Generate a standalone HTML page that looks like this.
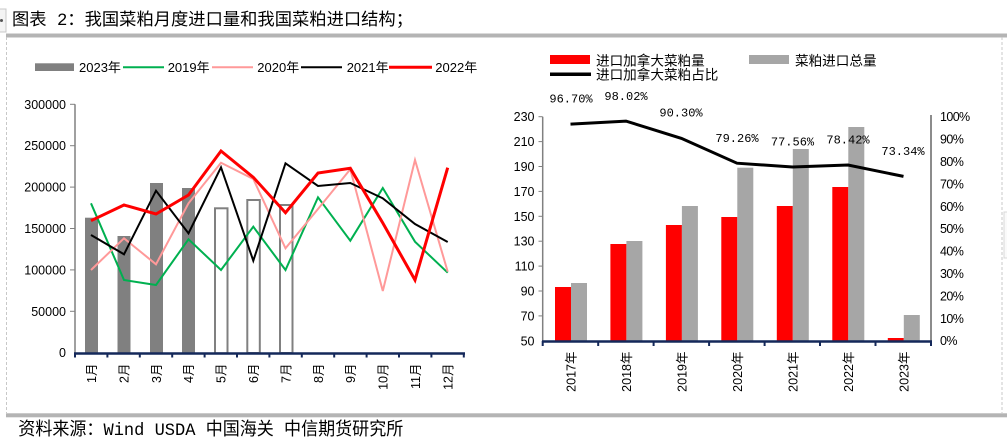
<!DOCTYPE html>
<html><head><meta charset="utf-8">
<style>
html,body{margin:0;padding:0;background:#fff;}
svg{display:block;}
</style></head>
<body>
<svg width="1007" height="440" viewBox="0 0 1007 440" xmlns="http://www.w3.org/2000/svg">
<rect x="0" y="0" width="1007" height="440" fill="#fff"/>
<!-- small left box -->
<rect x="-4" y="9" width="10" height="23" fill="#f4f4f4" stroke="#c8c8c8" stroke-width="1"/>
<circle cx="1.5" cy="20.5" r="1.5" fill="#555"/>
<!-- title -->
<text x="12" y="25" font-family="Liberation Mono, Noto Sans CJK SC, sans-serif" font-size="17.3" fill="#000" textLength="401" lengthAdjust="spacingAndGlyphs">图表 2：我国菜粕月度进口量和我国菜粕进口结构；</text>
<!-- top bar -->
<rect x="6" y="33.5" width="1001" height="4" fill="#b4b4b4"/>
<!-- dashed frame -->
<line x1="6.5" y1="37" x2="6.5" y2="413" stroke="#c8c8c8" stroke-width="1" stroke-dasharray="3,2"/>
<line x1="1002" y1="37" x2="1002" y2="413" stroke="#c8c8c8" stroke-width="1" stroke-dasharray="3,2"/>
<rect x="1004" y="212" width="6" height="46" fill="#fafafa" stroke="#d8d8d8" stroke-width="1"/>
<!-- bottom bar -->
<rect x="6" y="413.3" width="1001" height="4" fill="#b4b4b4"/>
<text x="18.3" y="435" font-family="Liberation Mono, Noto Sans CJK SC, sans-serif" font-size="17.9" fill="#000" textLength="385" lengthAdjust="spacingAndGlyphs">资料来源：Wind USDA 中国海关 中信期货研究所</text>

<!-- ================= LEFT CHART ================= -->
<g font-family="Liberation Sans, Noto Sans CJK SC, sans-serif" font-size="13" fill="#000">
  <rect x="35" y="63.3" width="39" height="7.7" fill="#808080"/>
  <text x="79" y="72">2023年</text>
  <line x1="123" y1="67.3" x2="164" y2="67.3" stroke="#00b050" stroke-width="2"/>
  <text x="167.7" y="72">2019年</text>
  <line x1="212" y1="67.3" x2="253" y2="67.3" stroke="#ff9999" stroke-width="2"/>
  <text x="257.3" y="72">2020年</text>
  <line x1="301" y1="67.3" x2="342" y2="67.3" stroke="#000" stroke-width="2"/>
  <text x="346.7" y="72">2021年</text>
  <line x1="389" y1="67.3" x2="432" y2="67.3" stroke="#ff0000" stroke-width="3"/>
  <text x="435.3" y="72">2022年</text>
</g>
<!-- y axis -->
<line x1="75" y1="104.3" x2="75" y2="353" stroke="#808080" stroke-width="1.5"/>
<g stroke="#808080" stroke-width="1">
  <line x1="70" y1="104.3" x2="75" y2="104.3"/>
  <line x1="70" y1="145.7" x2="75" y2="145.7"/>
  <line x1="70" y1="187.1" x2="75" y2="187.1"/>
  <line x1="70" y1="228.5" x2="75" y2="228.5"/>
  <line x1="70" y1="269.9" x2="75" y2="269.9"/>
  <line x1="70" y1="311.3" x2="75" y2="311.3"/>
</g>
<g font-family="Liberation Sans, sans-serif" font-size="12.5" fill="#000" text-anchor="end">
  <text x="66" y="108.8">300000</text>
  <text x="66" y="150.2">250000</text>
  <text x="66" y="191.6">200000</text>
  <text x="66" y="233">150000</text>
  <text x="66" y="274.4">100000</text>
  <text x="66" y="315.8">50000</text>
  <text x="66" y="357.2">0</text>
</g>
<!-- bars 2023 -->
<g fill="#808080">
  <rect x="85" y="217.7" width="13" height="135.3"/>
  <rect x="117.5" y="236" width="13" height="117"/>
  <rect x="150" y="183" width="13" height="170"/>
  <rect x="182" y="188" width="13" height="165"/>
</g>
<g fill="none" stroke="#808080" stroke-width="2">
  <rect x="215" y="208.3" width="12.5" height="145"/>
  <rect x="247.3" y="200" width="12.5" height="153"/>
  <rect x="280" y="205" width="12.5" height="148"/>
</g>
<!-- lines -->
<g fill="none" stroke-linejoin="miter">
  <polyline stroke="#00b050" stroke-width="2" points="91,203.3 124,280 156,285 188.5,239.3 221,270 253.3,226.7 285.5,270 318,197.3 350.3,240.7 382.8,188 415,241.7 447.7,272.7"/>
  <polyline stroke="#ff9999" stroke-width="2" points="91,270 124,238.3 156,264.3 188.5,203.3 221,162.7 253.3,179 285.5,248.3 318,209 350.3,169.3 382.8,291 415,160 447.7,271.7"/>
  <polyline stroke="#000" stroke-width="2" points="91,235 124,254.3 156,190.7 188.5,233.3 221,167.3 253.3,260.7 285.5,163.3 318,186 350.3,183 382.8,198.3 415,224 447.7,242"/>
  <polyline stroke="#ff0000" stroke-width="3" points="91,220.7 124,205 156,214 188.5,195 221,151 253.3,177.3 285.5,212.7 318,173 350.3,168.3 382.8,223 415,280 447.7,167.7"/>
</g>
<!-- x axis -->
<line x1="74" y1="353.5" x2="465" y2="353.5" stroke="#14285a" stroke-width="2.5"/>
<g stroke="#14285a" stroke-width="2">
  <line x1="75" y1="353" x2="75" y2="357.5"/>
  <line x1="107.4" y1="353" x2="107.4" y2="357.5"/>
  <line x1="139.8" y1="353" x2="139.8" y2="357.5"/>
  <line x1="172.2" y1="353" x2="172.2" y2="357.5"/>
  <line x1="204.6" y1="353" x2="204.6" y2="357.5"/>
  <line x1="237" y1="353" x2="237" y2="357.5"/>
  <line x1="269.4" y1="353" x2="269.4" y2="357.5"/>
  <line x1="301.8" y1="353" x2="301.8" y2="357.5"/>
  <line x1="334.2" y1="353" x2="334.2" y2="357.5"/>
  <line x1="366.6" y1="353" x2="366.6" y2="357.5"/>
  <line x1="399" y1="353" x2="399" y2="357.5"/>
  <line x1="431.4" y1="353" x2="431.4" y2="357.5"/>
  <line x1="463.8" y1="353" x2="463.8" y2="357.5"/>
</g>
<g font-family="Liberation Sans, Noto Sans CJK SC, sans-serif" font-size="12.5" fill="#000" text-anchor="end">
  <text transform="translate(96,363.5) rotate(-90)">1月</text>
  <text transform="translate(128.4,363.5) rotate(-90)">2月</text>
  <text transform="translate(160.8,363.5) rotate(-90)">3月</text>
  <text transform="translate(193.2,363.5) rotate(-90)">4月</text>
  <text transform="translate(225.6,363.5) rotate(-90)">5月</text>
  <text transform="translate(258,363.5) rotate(-90)">6月</text>
  <text transform="translate(290.4,363.5) rotate(-90)">7月</text>
  <text transform="translate(322.8,363.5) rotate(-90)">8月</text>
  <text transform="translate(355.2,363.5) rotate(-90)">9月</text>
  <text transform="translate(387.6,363.5) rotate(-90)">10月</text>
  <text transform="translate(420,363.5) rotate(-90)">11月</text>
  <text transform="translate(452.4,363.5) rotate(-90)">12月</text>
</g>

<!-- ================= RIGHT CHART ================= -->
<g font-family="Liberation Sans, Noto Sans CJK SC, sans-serif" font-size="13.6" fill="#000">
  <rect x="550" y="55" width="40" height="9" fill="#ff0000"/>
  <text x="596" y="65.5">进口加拿大菜粕量</text>
  <rect x="749" y="55" width="40" height="9" fill="#a6a6a6"/>
  <text x="795" y="65.5">菜粕进口总量</text>
  <line x1="550" y1="74.3" x2="591" y2="74.3" stroke="#000" stroke-width="3.5"/>
  <text x="596" y="79.5">进口加拿大菜粕占比</text>
</g>
<!-- axes -->
<line x1="542.7" y1="116.7" x2="542.7" y2="341" stroke="#808080" stroke-width="1.5"/>
<line x1="931" y1="115" x2="931" y2="341" stroke="#8c8c8c" stroke-width="2"/>
<g stroke="#808080" stroke-width="1">
  <line x1="538.5" y1="116.7" x2="542.7" y2="116.7"/>
  <line x1="538.5" y1="141.6" x2="542.7" y2="141.6"/>
  <line x1="538.5" y1="166.5" x2="542.7" y2="166.5"/>
  <line x1="538.5" y1="191.4" x2="542.7" y2="191.4"/>
  <line x1="538.5" y1="216.3" x2="542.7" y2="216.3"/>
  <line x1="538.5" y1="241.2" x2="542.7" y2="241.2"/>
  <line x1="538.5" y1="266.1" x2="542.7" y2="266.1"/>
  <line x1="538.5" y1="291" x2="542.7" y2="291"/>
  <line x1="538.5" y1="315.9" x2="542.7" y2="315.9"/>
</g>
<g font-family="Liberation Sans, sans-serif" font-size="12.5" fill="#000" text-anchor="end">
  <text x="534.5" y="121.2">230</text>
  <text x="534.5" y="146.1">210</text>
  <text x="534.5" y="171">190</text>
  <text x="534.5" y="195.9">170</text>
  <text x="534.5" y="220.8">150</text>
  <text x="534.5" y="245.7">130</text>
  <text x="534.5" y="270.6">110</text>
  <text x="534.5" y="295.5">90</text>
  <text x="534.5" y="320.4">70</text>
  <text x="534.5" y="345.3">50</text>
</g>
<g font-family="Liberation Sans, sans-serif" font-size="12.5" fill="#000" letter-spacing="-0.6">
  <text x="940" y="121.2">100%</text>
  <text x="940" y="143.6">90%</text>
  <text x="940" y="166">80%</text>
  <text x="940" y="188.4">70%</text>
  <text x="940" y="210.8">60%</text>
  <text x="940" y="233.2">50%</text>
  <text x="940" y="255.6">40%</text>
  <text x="940" y="278">30%</text>
  <text x="940" y="300.4">20%</text>
  <text x="940" y="322.8">10%</text>
  <text x="940" y="345.2">0%</text>
</g>
<!-- bars -->
<g fill="#ff0000">
  <rect x="555" y="287" width="16" height="54"/>
  <rect x="610.4" y="244" width="16" height="97"/>
  <rect x="665.9" y="225" width="16" height="116"/>
  <rect x="721.3" y="217" width="16" height="124"/>
  <rect x="776.8" y="206" width="16" height="135"/>
  <rect x="832.3" y="187" width="16" height="154"/>
  <rect x="887.8" y="338" width="16" height="3"/>
</g>
<g fill="#a6a6a6">
  <rect x="571" y="283" width="16" height="58"/>
  <rect x="626.4" y="241" width="16" height="100"/>
  <rect x="681.9" y="206" width="16" height="135"/>
  <rect x="737.3" y="167.7" width="16" height="173.3"/>
  <rect x="792.8" y="149" width="16" height="192"/>
  <rect x="848.3" y="127" width="16" height="214"/>
  <rect x="903.8" y="315" width="16" height="26"/>
</g>
<!-- line -->
<polyline fill="none" stroke="#000" stroke-width="3" points="570.5,124.1 626,121.1 681.5,138.4 737,163.2 792.5,167 848,165 903.5,176.4"/>
<g font-family="Liberation Mono, monospace" font-size="12" fill="#000" text-anchor="middle">
  <text x="571" y="102.5">96.70%</text>
  <text x="626" y="100">98.02%</text>
  <text x="681" y="116.5">90.30%</text>
  <text x="737" y="142">79.26%</text>
  <text x="792.5" y="145.5">77.56%</text>
  <text x="848" y="143.5">78.42%</text>
  <text x="903" y="155">73.34%</text>
</g>
<!-- x axis -->
<line x1="542" y1="341.5" x2="932" y2="341.5" stroke="#14285a" stroke-width="2.5"/>
<g stroke="#14285a" stroke-width="2">
  <line x1="542.7" y1="341" x2="542.7" y2="346"/>
  <line x1="598.2" y1="341" x2="598.2" y2="346"/>
  <line x1="653.6" y1="341" x2="653.6" y2="346"/>
  <line x1="709.1" y1="341" x2="709.1" y2="346"/>
  <line x1="764.6" y1="341" x2="764.6" y2="346"/>
  <line x1="820" y1="341" x2="820" y2="346"/>
  <line x1="875.5" y1="341" x2="875.5" y2="346"/>
  <line x1="931" y1="341" x2="931" y2="346"/>
</g>
<g font-family="Liberation Sans, Noto Sans CJK SC, sans-serif" font-size="12.5" fill="#000" text-anchor="end">
  <text transform="translate(575.5,351.5) rotate(-90)">2017年</text>
  <text transform="translate(631,351.5) rotate(-90)">2018年</text>
  <text transform="translate(686.5,351.5) rotate(-90)">2019年</text>
  <text transform="translate(742,351.5) rotate(-90)">2020年</text>
  <text transform="translate(797.5,351.5) rotate(-90)">2021年</text>
  <text transform="translate(853,351.5) rotate(-90)">2022年</text>
  <text transform="translate(908.5,351.5) rotate(-90)">2023年</text>
</g>
</svg>
</body></html>
